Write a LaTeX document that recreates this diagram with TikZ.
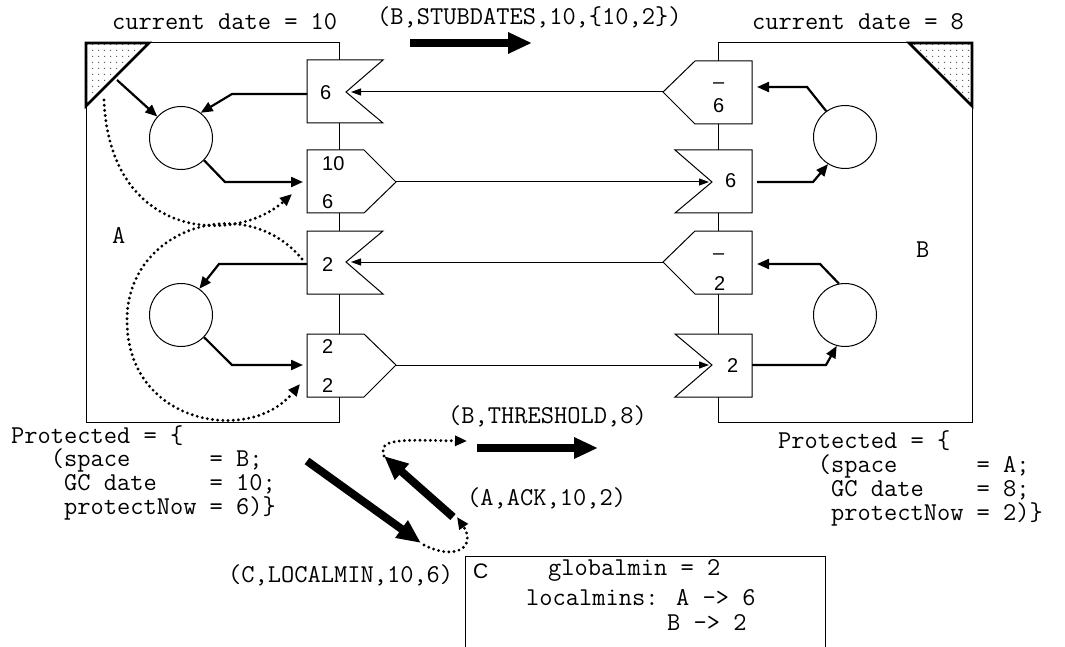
\documentclass[tikz,border=0pt]{standalone}
\usepackage{fontspec}
\setsansfont{Liberation Sans}
\usetikzlibrary{arrows.meta,patterns}
\pgfdeclarepatternformonly{sparsedots}{\pgfpointorigin}{\pgfpoint{6pt}{6pt}}{\pgfpoint{6pt}{6pt}}{\pgfpathcircle{\pgfpoint{3pt}{3pt}}{0.75pt}\pgfusepath{fill}}
\begin{document}
\begin{tikzpicture}[x=1pt,y=-1pt,
  thinline/.style={line width=1pt},
  conn/.style={line width=2.2pt,-{Triangle[length=12pt,width=10pt]}},
  msg/.style={line width=1pt,-{Triangle[length=10pt,width=7pt]}},
  bigarrow/.style={line width=8pt,-{Triangle[length=24pt,width=20pt]}},
  dotconn/.style={line width=3.2pt,dash pattern=on 0pt off 5.2pt,line cap=round,-{Triangle[length=12pt,width=10pt]}},
  txt/.style={font=\ttfamily\fontsize{25.7}{30}\selectfont,inner sep=0pt,anchor=base west},
  num/.style={font=\sffamily\fontsize{20}{24}\selectfont,inner sep=0pt,anchor=base west},
  corner/.style={pattern=sparsedots,pattern color=black!70},
  proc/.style={circle,draw,line width=1pt,minimum size=63pt,inner sep=0pt},
  chan/.style={draw,line width=1pt,fill=white,line join=miter}
]
\useasboundingbox (0,0) rectangle (1065,647);

% spaces
\draw[thinline] (86,43) rectangle (339,422);
\draw[thinline] (718,43) rectangle (972,422);

% corner triangles
\fill[corner] (86,43) -- (149,43) -- (86,106) -- cycle;
\draw[line width=2.6pt,line join=miter] (86,43) -- (149,43) -- (86,106) -- cycle;
\fill[corner] (909,43) -- (972,43) -- (972,106) -- cycle;
\draw[line width=2.6pt,line join=miter] (909,43) -- (972,43) -- (972,106) -- cycle;

% channel shapes, space A
\draw[chan] (307,60) -- (383,60) -- (346,92) -- (383,123) -- (307,123) -- cycle;
\draw[chan] (307,150) -- (364,150) -- (396,182) -- (364,213) -- (307,213) -- cycle;
\draw[chan] (307,231) -- (383,231) -- (346,262) -- (383,294) -- (307,294) -- cycle;
\draw[chan] (307,334) -- (364,334) -- (396,365) -- (364,397) -- (307,397) -- cycle;
% channel shapes, space B
\draw[chan] (752,61) -- (695,61) -- (663,92) -- (695,124) -- (752,124) -- cycle;
\draw[chan] (675,150) -- (752,150) -- (752,213) -- (675,213) -- (712,182) -- cycle;
\draw[chan] (752,231) -- (695,231) -- (663,262) -- (695,294) -- (752,294) -- cycle;
\draw[chan] (675,334) -- (752,334) -- (752,397) -- (675,397) -- (712,365) -- cycle;

% named anchor points
\coordinate (triA) at (117,80);
\coordinate (rA1) at (307,94);
\coordinate (sA2) at (303,182);
\coordinate (rA3) at (307,264);
\coordinate (sA4) at (303,365);
\coordinate (sA2tip) at (396,182);
\coordinate (sA4tip) at (396,365);
\coordinate (rA1n) at (351,92);
\coordinate (rA3n) at (351,262);
\coordinate (sB1tip) at (663,92);
\coordinate (sB3tip) at (663,262);
\coordinate (rB2n) at (709,182);
\coordinate (rB4n) at (709,365);
\coordinate (sB1) at (757,87);
\coordinate (rB2) at (757,182);
\coordinate (sB3) at (757,264);
\coordinate (rB4) at (752,365);

% processes
\node[proc] (cA1) at (181,138) {};
\node[proc] (cA2) at (181,315) {};
\node[proc] (cB1) at (845,137) {};
\node[proc] (cB2) at (845,315) {};

% labels in channels
\node[num] (l1) at (320,100) {6};
\node[num] (l2) at (322,171) {10};
\node[num] (l3) at (322,208) {6};
\node[num] (l4) at (322,271) {2};
\node[num] (l5) at (322,353) {2};
\node[num] (l6) at (322,392) {2};
\node[num] (l7) at (713,89) {–};
\node[num] (l8) at (713,113) {6};
\node[num] (l9) at (725,188) {6};
\node[num] (l10) at (713,259) {–};
\node[num] (l11) at (714,290) {2};
\node[num] (l12) at (727,372) {2};

% connectors in A
\draw[conn] (triA) -- (cA1);
\draw[conn] (rA1) -- (232,94) -- (cA1.52);
\draw[conn] (cA1.-44) -- (225,182) -- (sA2);
\draw[conn] (rA3) -- (219,264) -- (cA2.55);
\draw[conn] (cA2.-44) -- (232,365) -- (sA4);
% connectors in B
\draw[conn] (cB1.126) -- (807,87) -- (sB1);
\draw[conn] (rB2) -- (813,182) -- (cB1.-122);
\draw[conn] (cB2.101) -- (820,264) -- (sB3);
\draw[conn] (rB4) -- (826,365) -- (cB2.-105);

% messages between channels
\draw[msg] (sB1tip) -- (rA1n);
\draw[msg] (sA2tip) -- (rB2n);
\draw[msg] (sB3tip) -- (rA3n);
\draw[msg] (sA4tip) -- (rB4n);

% dotted curves
\coordinate (dA0) at (104,100);
\coordinate (dA1) at (292,194);
\draw[dotconn] (dA0) .. controls (110,240) and (235,245) .. (dA1);
\coordinate (dB0) at (302,259);
\coordinate (dB1) at (300,384);
\draw[dotconn] (dB0) .. controls (245,190) and (127,228) .. (127,320) .. controls (127,425) and (250,445) .. (dB1);

% texts
\node[txt] (cdA) at (112,30) {current date = 10};
\node[txt] (cdB) at (752,30) {current date = 8};
\node[txt] (stub) at (377,25) {(B,STUBDATES,10,\{10,2\})};
\node[txt] (nA) at (112,243) {A};
\node[txt] (nB) at (916,257) {B};

\node[txt] (pA1) at (11,443) {Protected = \{};
\node[txt] (pA2) at (11,466.5) {\ \ \ (space\ \ \ \ \ \ = B;};
\node[txt] (pA3) at (11,490) {\ \ \ \ GC date\ \ \ \ = 10;};
\node[txt] (pA4) at (11,514) {\ \ \ \ protectNow = 6)\}};

\node[txt] (pB1) at (778,448) {Protected = \{};
\node[txt] (pB2) at (778,472) {\ \ \ (space\ \ \ \ \ \ = A;};
\node[txt] (pB3) at (778,496) {\ \ \ \ GC date\ \ \ \ = 8;};
\node[txt] (pB4) at (778,520) {\ \ \ \ protectNow = 2)\}};

\node[txt] (thr) at (448,423) {(B,THRESHOLD,8)};
\node[txt] (ack) at (467,505) {(A,ACK,10,2)};
\node[txt] (lmin) at (228,582) {(C,LOCALMIN,10,6)};

% big message arrows
\coordinate (st0) at (410,43); \coordinate (st1) at (532,43);
\draw[bigarrow] (st0) -- (st1);
\coordinate (th0) at (477,448); \coordinate (th1) at (598,448);
\draw[bigarrow] (th0) -- (th1);
\coordinate (ak0) at (453,517); \coordinate (ak1) at (384,456);
\draw[bigarrow] (ak0) -- (ak1);
\coordinate (lm0) at (307,461); \coordinate (lm1) at (421,543);
\draw[bigarrow] (lm0) -- (lm1);

% small dotted loops
\coordinate (dt0) at (384,456); \coordinate (dt1) at (467,441);
\draw[dotconn] (dt0) .. controls (378,438) and (400,440) .. (dt1);
\coordinate (dl0) at (424,545); \coordinate (dl1) at (457,517);
\draw[dotconn] (dl0) .. controls (458,562) and (476,545) .. (dl1);

% C box
\draw[thinline] (465,650) -- (465,556) -- (825,556) -- (825,650);
\node[num,font=\sffamily\fontsize{21}{24}\selectfont] (nC) at (473,578) {C};
\node[txt] (gm) at (548,575) {globalmin = 2};
\node[txt] (lm) at (526,605) {localmins: A -> 6};
\node[txt] (lm2) at (667,630) {B -> 2};
\end{tikzpicture}
\end{document}
